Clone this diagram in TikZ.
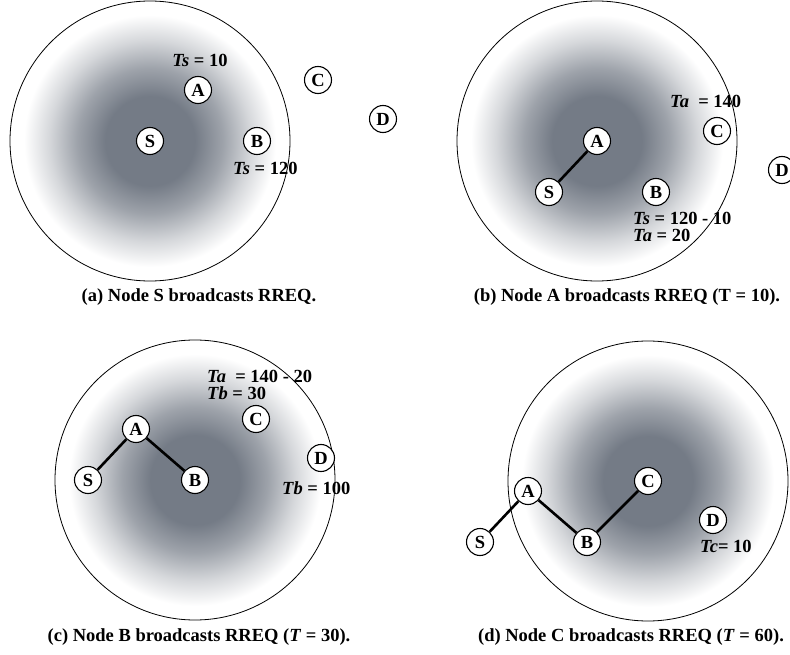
\documentclass[tikz,border=0pt]{standalone}
\usepackage{fontspec}
\setmainfont{Liberation Serif}
\usetikzlibrary{calc}
\definecolor{dk}{RGB}{116,123,134}
\pgfdeclareradialshading{bcast}{\pgfpoint{0bp}{0bp}}{color(0bp)=(dk); color(8bp)=(dk); color(13bp)=(dk!70!white); color(18bp)=(dk!30!white); color(22.5bp)=(white); color(50bp)=(white)}
\pgfdeclarelayer{bg}
\pgfdeclarelayer{links}
\pgfsetlayers{bg,links,main}
\tikzset{
  nd/.style={circle, draw, line width=1.1pt, fill=white, minimum size=27pt, inner sep=0pt, font=\fontsize{18.5}{20}\selectfont\bfseries},
  lbl/.style={inner sep=0pt, anchor=west, font=\fontsize{18.5}{20}\selectfont\bfseries},
  capt/.style={inner sep=0pt, font=\fontsize{18.5}{20}\selectfont\bfseries},
  link/.style={line width=2.6pt},
  rng/.style={draw, line width=0.8pt}
}
\newcommand{\netnodes}[3]{% prefix, Sx, Sy
  \coordinate (#1o) at (#2,#3);
  \node[nd] (#1S) at ($(#1o)+(0,0)$) {S};
  \node[nd] (#1A) at ($(#1o)+(48,-51)$) {A};
  \node[nd] (#1B) at ($(#1o)+(107,0)$) {B};
  \node[nd] (#1C) at ($(#1o)+(168,-61)$) {C};
  \node[nd] (#1D) at ($(#1o)+(233,-22)$) {D};
}
\begin{document}
\begin{tikzpicture}[x=1pt,y=-1pt]
\useasboundingbox (0,0) rectangle (790,655);
% ranges
\coordinate (ca) at (150,141);
\coordinate (cb) at (597,141);
\coordinate (cc) at (195,480);
\coordinate (cd) at (648,481);
\begin{pgfonlayer}{bg}
\foreach \ctr in {ca,cb,cc,cd}{
  \shade[shading=bcast] (\ctr) circle (140pt);
  \draw[rng] (\ctr) circle (140pt);
}
\end{pgfonlayer}
% panel (a)
\netnodes{a}{150}{141}
\node[lbl, anchor=center] (aL1) at (200,60) {\textit{Ts} = 10};
\node[lbl] (aL2) at (233,168) {\textit{Ts} = 120};
\node[capt] (acap) at (199,297) {(a) Node S broadcasts RREQ.};
% panel (b)
\netnodes{b}{549}{192}
\node[lbl] (bL1) at (670,101) {\textit{Ta}\ \ = 140};
\node[lbl] (bL2) at (633,218) {\textit{Ts} = 120 - 10};
\node[lbl] (bL3) at (633,235) {\textit{Ta} = 20};
\node[capt] (bcap) at (627,297) {(b) Node A broadcasts RREQ (T = 10).};
% panel (c)
\netnodes{c}{88}{480}
\node[lbl] (cL1) at (207,376) {\textit{Ta}\ \ = 140 - 20};
\node[lbl] (cL2) at (207,393) {\textit{Tb} = 30};
\node[lbl] (cL3) at (282,488) {\textit{Tb} = 100};
\node[capt] (ccap) at (199,637) {(c) Node B broadcasts RREQ (\textit{T} = 30).};
% panel (d)
\netnodes{d}{480}{542}
\node[lbl] (dL1) at (700,546) {\textit{Tc}= 10};
\node[capt] (dcap) at (631,637) {(d) Node C broadcasts RREQ (\textit{T} = 60).};
% links
\begin{pgfonlayer}{links}
\draw[link] (bS) -- (bA);
\draw[link] (cS) -- (cA) -- (cB);
\draw[link] (dS) -- (dA) -- (dB) -- (dC);
\end{pgfonlayer}
\end{tikzpicture}
\end{document}
